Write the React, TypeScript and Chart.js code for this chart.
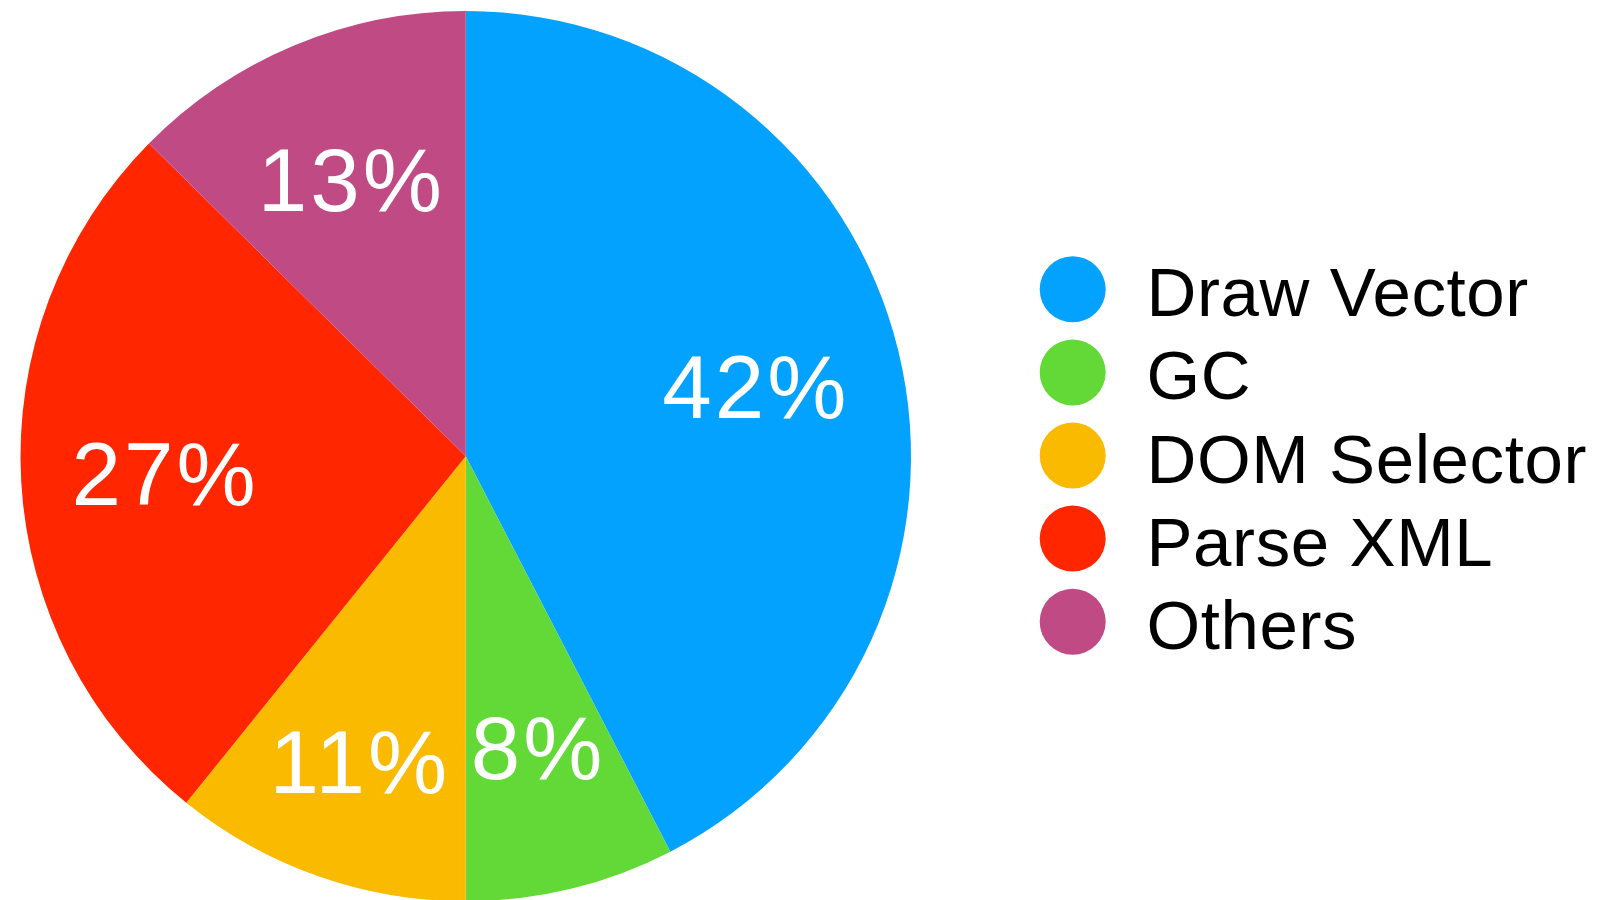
import React, { useEffect, useRef } from "react";
import { Chart, registerables } from "chart.js";

Chart.register(...registerables);

const categories = ["Draw Vector", "GC", "DOM Selector", "Parse XML", "Others"];
const shares = [42.4, 7.6, 10.8, 26.6, 12.6];
const shareLabels = ["42%", "8%", "11%", "27%", "13%"];
const colors = ["#04A2FF", "#62D937", "#F9BA00", "#FF2600", "#C04A84"];

const FONT = '"Liberation Sans", Arial, Helvetica, sans-serif';

const sliceLabelPlugin = {
  id: "sliceLabels",
  afterDatasetsDraw(chart: any, _args: any, opts: any) {
    const ctx = chart.ctx;
    const meta = chart.getDatasetMeta(0);
    const size = opts.fontSize;
    ctx.save();
    ctx.font = `${size}px ${FONT}`;
    ctx.fillStyle = "#ffffff";
    ctx.textAlign = "center";
    ctx.textBaseline = "alphabetic";
    try { (ctx as any).letterSpacing = opts.letterSpacing + "px"; } catch (e) {}
    meta.data.forEach((arc: any, i: number) => {
      const { x, y, startAngle, endAngle, outerRadius } = arc.getProps(
        ["x", "y", "startAngle", "endAngle", "outerRadius"],
        true
      );
      const mid = (startAngle + endAngle) / 2;
      const r = outerRadius * opts.radius[i];
      const lx = x + Math.cos(mid) * r;
      const ly = y + Math.sin(mid) * r;
      ctx.fillText(shareLabels[i], lx + opts.letterSpacing / 2, ly + size * 0.716 / 2);
    });
    ctx.restore();
  },
};

const sideLegendPlugin = {
  id: "sideLegend",
  afterDraw(chart: any, _args: any, opts: any) {
    const ctx = chart.ctx;
    const labels: string[] = chart.data.labels;
    const bg: string[] = chart.data.datasets[0].backgroundColor;
    const n = labels.length;
    const cy0 = opts.centerY - ((n - 1) * opts.rowGap) / 2;
    ctx.save();
    ctx.font = `${opts.fontSize}px ${FONT}`;
    ctx.textAlign = "left";
    ctx.textBaseline = "alphabetic";
    try { (ctx as any).letterSpacing = opts.letterSpacing + "px"; } catch (e) {}
    labels.forEach((lab, i) => {
      const cy = cy0 + i * opts.rowGap;
      ctx.beginPath();
      ctx.fillStyle = bg[i];
      ctx.arc(opts.dotX, cy, opts.dotRadius, 0, Math.PI * 2);
      ctx.fill();
      ctx.fillStyle = "#000000";
      ctx.fillText(lab, opts.textX, cy + opts.baselineOffset);
    });
    ctx.restore();
  },
};

export default function App() {
  const ref = useRef<HTMLCanvasElement | null>(null);

  useEffect(() => {
    if (!ref.current) return;
    const chart = new Chart(ref.current, {
      type: "pie",
      data: {
        labels: categories,
        datasets: [
          {
            data: shares,
            backgroundColor: colors,
            borderWidth: 0,
          },
        ],
      },
      options: {
        animation: false,
        responsive: false,
        devicePixelRatio: 1,
        layout: { padding: { left: 20.5, top: 11, right: 686, bottom: 10.5 } },
        plugins: {
          legend: { display: false },
          tooltip: { enabled: false },
          sliceLabels: {
            fontSize: 89,
            letterSpacing: 3,
            radius: [0.667, 0.672, 0.725, 0.68, 0.675],
          },
          sideLegend: {
            centerY: 455.5,
            rowGap: 83.1,
            dotX: 1072.7,
            dotRadius: 33,
            textX: 1146.5,
            fontSize: 69,
            letterSpacing: 0.6,
            baselineOffset: 27,
          },
        } as any,
      },
      plugins: [sliceLabelPlugin, sideLegendPlugin],
    });
    return () => chart.destroy();
  }, []);

  return (
    <div
      style={{
        position: "fixed",
        left: 0,
        top: 0,
        width: 1597,
        height: 912,
        background: "#ffffff",
      }}
    >
      <canvas ref={ref} width={1597} height={912} style={{ width: 1597, height: 912, display: "block" }} />
    </div>
  );
}
